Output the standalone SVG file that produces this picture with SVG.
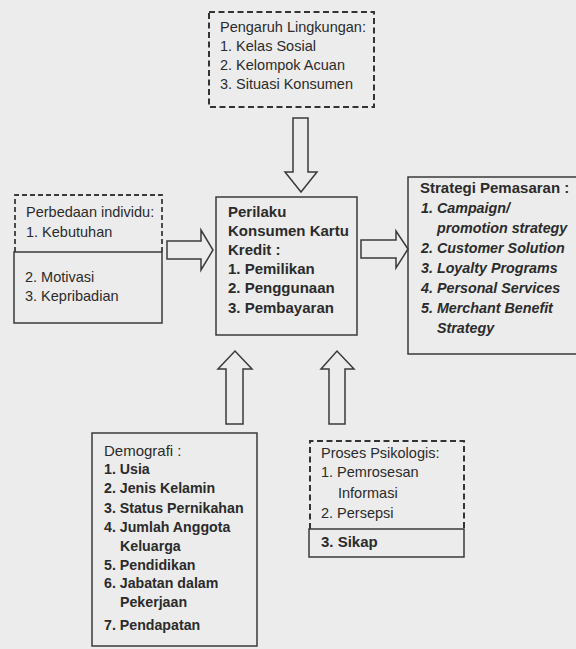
<svg xmlns="http://www.w3.org/2000/svg" width="576" height="649" viewBox="0 0 576 649">
<style>
.t{font-family:"Liberation Sans",Arial,sans-serif;fill:#2b2b2b;font-size:14.5px}
.b{font-weight:bold}
.i{font-style:italic}
.p{font-size:15px;font-weight:bold}
.s{font-size:14.3px;font-weight:bold;font-style:italic}
.d{font-size:14.2px;font-weight:bold}
.dash{fill:none;stroke:#333;stroke-width:2;stroke-dasharray:6 3.5}
.dash2{fill:none;stroke:#3a3a3a;stroke-width:1.8;stroke-dasharray:5 3}
.solid{fill:none;stroke:#3a3a3a;stroke-width:1.5}
.arrow{fill:none;stroke:#3a3a3a;stroke-width:1.5;stroke-linejoin:miter}
</style>
<rect x="0" y="0" width="576" height="649" fill="#ececec"/>

<g id="pengaruh-lingkungan">
  <rect class="dash" x="209" y="12" width="165" height="95"/>
  <text class="t" x="220" y="32">Pengaruh Lingkungan:</text>
  <text class="t" x="220" y="51">1. Kelas Sosial</text>
  <text class="t" x="220" y="70">2. Kelompok Acuan</text>
  <text class="t" x="220" y="89">3. Situasi Konsumen</text>
</g>

<g id="perbedaan-individu">
  <path class="dash2" d="M15 252 V195 H162 V252"/>
  <path class="solid" d="M14 252 H162 V323 H14 Z"/>
  <text class="t" x="26" y="217">Perbedaan individu:</text>
  <text class="t" x="26" y="237">1. Kebutuhan</text>
  <text class="t" x="25" y="282">2. Motivasi</text>
  <text class="t" x="25" y="301">3. Kepribadian</text>
</g>

<g id="perilaku-konsumen">
  <rect class="solid" x="216" y="197" width="141" height="138"/>
  <text class="t p" x="228" y="217">Perilaku</text>
  <text class="t p" x="228" y="236">Konsumen Kartu</text>
  <text class="t p" x="228" y="255">Kredit :</text>
  <text class="t p" x="228" y="274">1. Pemilikan</text>
  <text class="t p" x="228" y="293">2. Penggunaan</text>
  <text class="t p" x="228" y="313">3. Pembayaran</text>
</g>

<g id="strategi-pemasaran">
  <rect class="solid" x="408" y="177" width="190" height="177"/>
  <text class="t b" style="font-size:15px" x="420" y="193">Strategi Pemasaran :</text>
  <text class="t s" x="421" y="213">1. Campaign/</text>
  <text class="t s" x="437" y="233">promotion strategy</text>
  <text class="t s" x="421" y="253">2. Customer Solution</text>
  <text class="t s" x="421" y="273">3. Loyalty Programs</text>
  <text class="t s" x="421" y="293">4. Personal Services</text>
  <text class="t s" x="421" y="313">5. Merchant Benefit</text>
  <text class="t s" x="437" y="333">Strategy</text>
</g>

<g id="demografi">
  <rect class="solid" x="92" y="433" width="165" height="213"/>
  <text class="t" style="font-size:15px" x="104" y="456">Demografi :</text>
  <text class="t d" x="104" y="474">1. Usia</text>
  <text class="t d" x="104" y="493">2. Jenis Kelamin</text>
  <text class="t d" x="104" y="513">3. Status Pernikahan</text>
  <text class="t d" x="104" y="532">4. Jumlah Anggota</text>
  <text class="t d" x="120" y="551">Keluarga</text>
  <text class="t d" x="104" y="570">5. Pendidikan</text>
  <text class="t d" x="104" y="588">6. Jabatan dalam</text>
  <text class="t d" x="120" y="607">Pekerjaan</text>
  <text class="t d" x="104" y="630">7. Pendapatan</text>
</g>

<g id="proses-psikologis">
  <path class="dash" d="M310 529 V441 H464 V529"/>
  <path class="solid" d="M309 529 H464 V557 H309 Z"/>
  <text class="t" x="321" y="458">Proses Psikologis:</text>
  <text class="t" x="321" y="477">1. Pemrosesan</text>
  <text class="t" x="338" y="498">Informasi</text>
  <text class="t" x="321" y="518">2. Persepsi</text>
  <text class="t b" style="font-size:15px" x="321" y="547">3. Sikap</text>
</g>

<g id="connectors">
  <polygon class="arrow" points="293,118 308,118 308,172 317,172 301,192 285,172 293,172"/>
  <polygon class="arrow" points="167,241 201,241 201,230 213,250 201,270 201,259 167,259"/>
  <polygon class="arrow" points="361,240 396,240 396,231 408,249 396,268 396,258 361,258"/>
  <polygon class="arrow" points="226,424 226,369 218,369 235,351 252,369 243,369 243,424"/>
  <polygon class="arrow" points="329,424 329,369 321,369 337,351 354,369 345,369 345,424"/>
</g>
</svg>
